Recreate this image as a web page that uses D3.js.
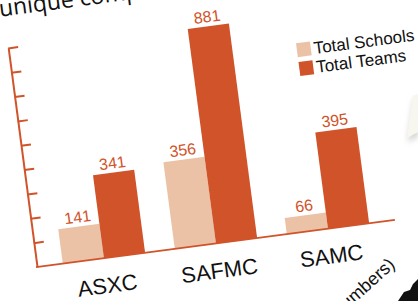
<!DOCTYPE html>
<html>
<head>
<script type="text/javascript" src="https://cdn.jsdelivr.net/npm/d3@7"></script>
<title>Schools and teams per competition</title>
<style>
body { margin:0; background:#fff; }
svg { display:block; }
</style>
</head>
<body>
<div id="chart"></div>
<script type="text/javascript">
(function(){

var competitions = ["ASXC", "SAFMC", "SAMC"];
var seriesNames = ["Total Schools", "Total Teams"];
var schools = [141, 356, 66];
var teams = [341, 881, 395];
var yTicks = [100, 200, 300, 400, 500, 600, 700, 800, 900];

var w = 418, h = 301;
var orange = "#d0532a", peach = "#ecc2a7";
var colors = [peach, orange];

// the photo is tilted, so the whole chart sits in a rotated group
var ox = 37, oy = 267, angle = -7.5;
var plotW = 361, plotH = 221;

var svg = d3.select("#chart").append("svg")
    .attr("width", w).attr("height", h);

var defs = svg.append("defs");
var blur = defs.append("filter").attr("id", "shadow")
    .attr("x", "-50%").attr("y", "-50%").attr("width", "200%").attr("height", "200%");
blur.append("feGaussianBlur").attr("stdDeviation", 3);

// paper corner peeking in on the right
svg.append("path")
    .attr("d", "M414,100 L408,142 L418,136 L418,98 Z")
    .attr("fill", "#999").attr("opacity", 0.5).attr("filter", "url(#shadow)");
svg.append("path")
    .attr("d", "M413,96 L407,138 L418,132 L418,94 Z")
    .attr("fill", "#f8f7ef");

var g = svg.append("g")
    .attr("transform", "translate(" + ox + "," + oy + ") rotate(" + angle + ")");

var x0 = d3.scaleBand().domain(competitions).range([0, plotW])
    .paddingInner(0.265).paddingOuter(0.23);
var x1 = d3.scaleBand().domain(seriesNames).range([0, x0.bandwidth()]);
var y = d3.scaleLinear().domain([0, 900]).range([0, -plotH]);

var rows = competitions.map(function(c, i) {
  return { name: c, values: [schools[i], teams[i]] };
});

var groups = g.selectAll("g.grp")
    .data(rows)
    .enter().append("g")
      .attr("class", "grp")
      .attr("transform", function(d) { return "translate(" + x0(d.name) + ",0)"; });

groups.selectAll("rect")
    .data(function(d) { return d.values.map(function(v, j) { return { s: seriesNames[j], v: v, j: j }; }); })
    .enter().append("rect")
      .attr("x", function(d) { return x1(d.s); })
      .attr("y", function(d) { return y(d.v); })
      .attr("width", x1.bandwidth())
      .attr("height", function(d) { return -y(d.v); })
      .attr("fill", function(d) { return colors[d.j]; });

groups.selectAll("text.val")
    .data(function(d) { return d.values.map(function(v, j) { return { s: seriesNames[j], v: v }; }); })
    .enter().append("text")
      .attr("class", "val")
      .attr("x", function(d) { return x1(d.s) + x1.bandwidth() / 2; })
      .attr("y", function(d) { return y(d.v) - 4; })
      .attr("text-anchor", "middle")
      .attr("fill", orange)
      .style("font-family", "Liberation Sans, Arial, sans-serif")
      .style("font-size", "16px")
      .text(function(d) { return d.v; });

// axes
var yAxis = d3.axisRight(y).tickValues(yTicks).tickSize(10).tickSizeOuter(0).tickFormat("");
var ya = g.append("g").call(yAxis);
ya.selectAll("path, line").attr("stroke", orange).attr("stroke-width", 2);

g.append("line")
    .attr("x1", -1).attr("x2", plotW)
    .attr("y1", 0).attr("y2", 0)
    .attr("stroke", orange).attr("stroke-width", 2);

g.selectAll("text.cat")
    .data(competitions)
    .enter().append("text")
      .attr("class", "cat")
      .attr("x", function(d) { return x0(d) + x0.bandwidth() / 2; })
      .attr("y", 35)
      .attr("text-anchor", "middle")
      .attr("fill", "#111")
      .style("font-family", "Liberation Sans, Arial, sans-serif")
      .style("font-size", "22px")
      .text(function(d) { return d; });

// legend
var legend = g.selectAll("g.leg")
    .data(seriesNames)
    .enter().append("g")
      .attr("class", "leg")
      .attr("transform", function(d, i) { return "translate(286," + (-188 + i * 19) + ")"; });
legend.append("rect")
    .attr("width", 14).attr("height", 14)
    .attr("fill", function(d, i) { return colors[i]; });
legend.append("text")
    .attr("x", 17).attr("y", 13)
    .attr("fill", "#111")
    .style("font-family", "Liberation Sans, Arial, sans-serif")
    .style("font-size", "17px")
    .text(function(d) { return d; });

// title, clipped by the top of the photo
g.append("text")
    .attr("x", -4).attr("y", -253)
    .attr("fill", "#111")
    .style("font-family", "Open Sans, sans-serif")
    .style("font-size", "23px")
    .text("unique competitions");

// axis note, mostly off the bottom edge
svg.append("text")
    .attr("transform", "translate(396,266) rotate(-42)")
    .attr("text-anchor", "end")
    .attr("fill", "#111")
    .style("font-family", "Liberation Sans, Arial, sans-serif")
    .style("font-size", "18px")
    .text("(in numbers)");

// dark figure in the corner
svg.append("path")
    .attr("d", "M398,301 L404,292 L410,290 L413,284 L418,279 L418,301 Z")
    .attr("fill", "#111");

})();
</script>
</body>
</html>
